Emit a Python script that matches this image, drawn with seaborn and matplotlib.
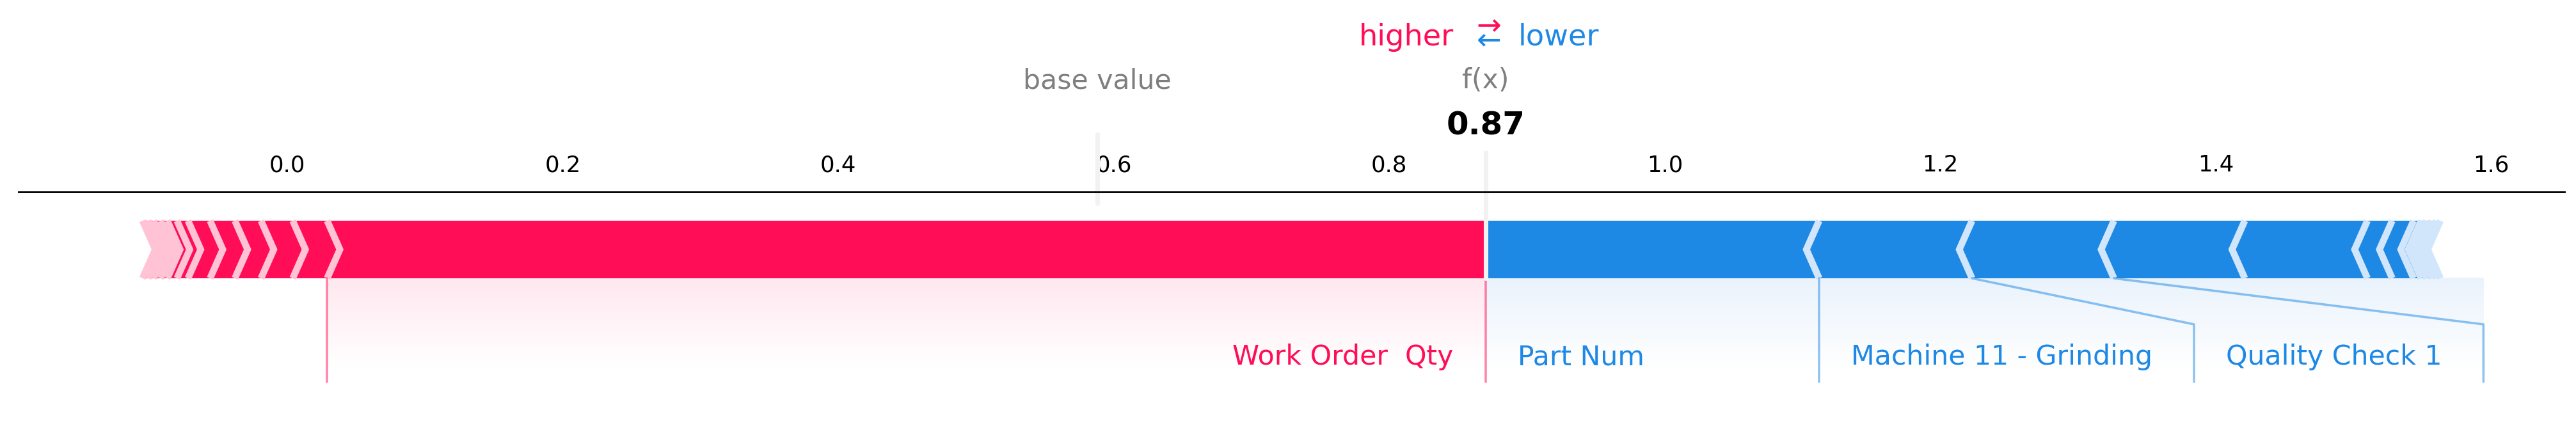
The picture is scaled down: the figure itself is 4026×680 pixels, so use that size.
"""
SHAP 力图（force plot）复刻：单个样本预测值的特征贡献分解。

红色为推高预测值的特征，蓝色为拉低预测值的特征，
仅对贡献足够大的特征标注名称。
"""

import matplotlib

matplotlib.use("Agg")

import matplotlib.pyplot as plt
import numpy as np
import seaborn as sns
from matplotlib import lines
from matplotlib.colors import LinearSegmentedColormap
from matplotlib.font_manager import FontProperties


BASE_VALUE = 0.588
OUT_NAME = "f(x)"

# 推高预测值的特征，按贡献从大到小（仅第一个有标注）
POS_NAMES = ["Work Order  Qty"]
POS_EFFECTS = [0.841, 0.025, 0.023, 0.019, 0.018, 0.016, 0.008, 0.007, 0.005, 0.005, 0.004, 0.004]

# 拉低预测值的特征，按贡献从大到小（前三个有标注）
NEG_NAMES = ["Part Num", "Machine 11 - Grinding", "Quality Check 1"]
NEG_EFFECTS = [0.242, 0.111, 0.103, 0.095, 0.089, 0.018, 0.0155, 0.0055, 0.004, 0.004, 0.003, 0.003]

POS_COLORS = ["#FF0D57", "#FFC3D5"]
NEG_COLORS = ["#1E88E5", "#D1E6FA"]
POS_SHADE = "#FFE8EF"
NEG_SHADE = "#EAF3FC"

DPI = 256
FIG_SIZE = (4026 / DPI, 680 / DPI)
AX_RECT = [0.0071, -0.3015, 0.9885, 0.8603]
OUTPUT_PATH = "out.png"


def add_line(ax, xs, ys, color, lw=1.0, alpha=0.5):
    line = lines.Line2D(xs, ys, lw=lw, alpha=alpha, color=color)
    line.set_clip_on(False)
    ax.add_line(line)


def draw_bars(ax, out_value, positions, kind, width_sep, width_bar=0.1):
    """画箭头形状的贡献条和分隔线。"""
    colors = POS_COLORS if kind == "positive" else NEG_COLORS
    rects, seps = [], []
    pre_val = out_value
    for index, pos in enumerate(positions):
        if kind == "positive":
            left, right = pos, pre_val
            indent = abs(width_sep)
            sep_pos = left
        else:
            left, right = pre_val, pos
            indent = -abs(width_sep)
            sep_pos = right
        pre_val = pos

        if index == 0:
            if kind == "positive":
                pts = [[left, 0], [right, 0], [right, width_bar], [left, width_bar],
                       [left + indent, width_bar / 2]]
            else:
                pts = [[right, 0], [left, 0], [left, width_bar], [right, width_bar],
                       [right + indent, width_bar / 2]]
        else:
            pts = [[left, 0], [right, 0], [right + indent * 0.9, width_bar / 2],
                   [right, width_bar], [left, width_bar], [left + indent * 0.9, width_bar / 2]]
        rects.append(plt.Polygon(pts, closed=True, fill=True, facecolor=colors[0], linewidth=0))

        sep_pts = [[sep_pos, 0], [sep_pos + indent, width_bar / 2], [sep_pos, width_bar]]
        seps.append(plt.Polygon(sep_pts, closed=False, fill=False, edgecolor=colors[1], lw=3))

    for patch in rects + seps:
        ax.add_patch(patch)


def draw_labels(fig, ax, out_value, names, positions, kind, offset_text, total_effect, min_perc=0.05):
    """标注主要特征，并在标注区域画渐变底色。"""
    positive = kind == "positive"
    color = POS_COLORS[0] if positive else NEG_COLORS[0]
    align = "right" if positive else "left"
    sign = 1 if positive else -1

    if positive:
        add_line(ax, [out_value, out_value], [0, -0.18], color)

    start_text = out_value
    pre_val = out_value
    box_end = out_value
    for name, val in zip(names, positions):
        if abs(val - pre_val) / abs(total_effect) < min_perc:
            break

        text = ax.text(start_text - sign * offset_text, -0.15, name, fontsize=12,
                       color=color, ha=align, va="baseline")
        text.set_bbox(dict(facecolor="none", edgecolor="none"))
        fig.canvas.draw()
        extent = text.get_bbox_patch().get_extents().transformed(ax.transData.inverted())
        box_end_ = extent.x0 if positive else extent.x1

        if box_end_ > ax.get_xlim()[1]:
            text.remove()
            break

        if sign * box_end_ > sign * val:
            add_line(ax, [val, val], [0, -0.18], color)
            start_text = val
            box_end = val
        else:
            box_end = box_end_ - sign * offset_text
            add_line(ax, [val, box_end, box_end], [0, -0.08, -0.18], color)
            start_text = box_end
        pre_val = val

    shade = POS_SHADE if positive else NEG_SHADE
    cmap = LinearSegmentedColormap.from_list("shade", ["#FFFFFF", shade])
    gradient = np.repeat(np.linspace(1, -1, 50)[:, None], 10, axis=1)
    x0, x1 = sorted([out_value, box_end])
    ax.imshow(gradient, cmap=cmap, vmin=0, vmax=1, origin="upper", interpolation="bilinear",
              extent=[x0, x1, -0.31, 0], aspect="auto", zorder=0)


def main() -> None:
    sns.set_style("white", {"axes.edgecolor": "black", "xtick.color": "black", "text.color": "black"})
    plt.rcParams["font.family"] = ["DejaVu Sans"]

    pos_effects = np.abs(np.array(POS_EFFECTS))
    neg_effects = np.abs(np.array(NEG_EFFECTS))
    out_value = BASE_VALUE + pos_effects.sum() - neg_effects.sum()

    pos_positions = out_value - np.cumsum(pos_effects)
    neg_positions = out_value + np.cumsum(neg_effects)
    total_pos = pos_positions.max() - pos_positions.min()
    total_neg = neg_positions.max() - neg_positions.min()
    offset_text = (total_neg + total_pos) * 0.04

    fig = plt.figure(figsize=FIG_SIZE, dpi=DPI)
    ax = fig.add_axes(AX_RECT)

    padding = max(total_pos, total_neg) * 0.2
    min_x = min(pos_positions.min(), BASE_VALUE) - padding
    max_x = max(neg_positions.max(), BASE_VALUE) + padding
    ax.set_xlim(min_x, max_x)
    ax.set_ylim(-0.5, 0.15)
    ax.tick_params(top=True, bottom=False, left=False, right=False,
                   labelleft=False, labeltop=True, labelbottom=False)
    ax.locator_params(axis="x", nbins=12)
    sns.despine(ax=ax, top=False, right=True, left=True, bottom=True)

    width_sep = (max_x - min_x) / 200
    draw_bars(ax, out_value, neg_positions, "negative", width_sep)
    draw_bars(ax, out_value, pos_positions, "positive", width_sep)

    total_effect = total_neg + total_pos
    draw_labels(fig, ax, out_value, NEG_NAMES, neg_positions, "negative", offset_text, total_effect)
    draw_labels(fig, ax, out_value, POS_NAMES, pos_positions, "positive", offset_text, total_effect)

    # higher / lower 图例
    ax.text(out_value - offset_text, 0.405, "higher", fontsize=13, color=POS_COLORS[0], ha="right")
    ax.text(out_value + offset_text, 0.405, "lower", fontsize=13, color=NEG_COLORS[0], ha="left")
    ax.text(out_value, 0.4, r"$\leftarrow$", fontsize=13, color=NEG_COLORS[0], ha="center")
    ax.text(out_value, 0.425, r"$\rightarrow$", fontsize=13, color=POS_COLORS[0], ha="center")

    # base value
    add_line(ax, [BASE_VALUE, BASE_VALUE], [0.13, 0.25], "#F2F2F2", lw=2.0, alpha=1.0)
    base_text = ax.text(BASE_VALUE, 0.33, "base value", fontsize=12, alpha=0.5, ha="center")
    base_text.set_bbox(dict(facecolor="white", edgecolor="white"))

    # 输出值
    add_line(ax, [out_value, out_value], [0, 0.24], "#F2F2F2", lw=2.0, alpha=1.0)
    bold = FontProperties(weight="bold")
    value_text = ax.text(out_value, 0.25, f"{out_value:.2f}", fontproperties=bold, fontsize=14, ha="center")
    value_text.set_bbox(dict(facecolor="white", edgecolor="white"))
    name_text = ax.text(out_value, 0.33, OUT_NAME, fontsize=12, alpha=0.5, ha="center")
    name_text.set_bbox(dict(facecolor="white", edgecolor="white"))

    ax.set_xlim(min_x, max_x)
    ax.set_ylim(-0.5, 0.15)
    fig.savefig(OUTPUT_PATH, dpi=DPI)
    plt.close(fig)


if __name__ == "__main__":
    main()
